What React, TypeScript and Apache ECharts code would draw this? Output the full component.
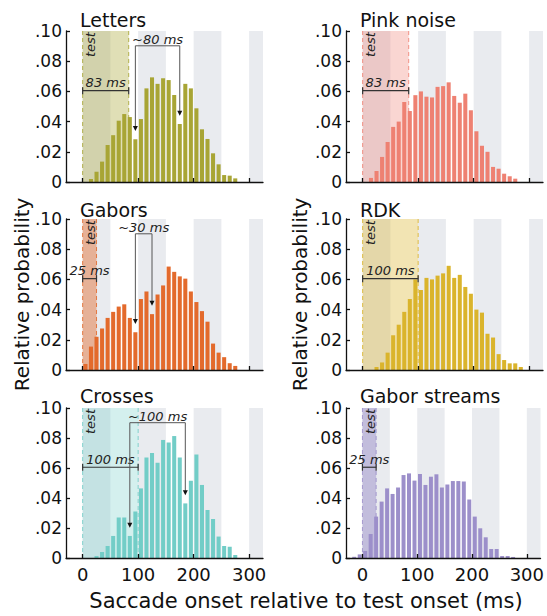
import React, { useEffect, useRef } from "react";
import * as echarts from "echarts";

// ---------- data ----------
const BIN_CENTERS = [-15, -5, 5, 15, 25, 35, 45, 55, 65, 75, 85, 95, 105, 115, 125, 135, 145, 155, 165, 175, 185, 195, 205, 215, 225, 235, 245, 255, 265, 275, 285];
const BIN_WIDTH = 10;

const LETTERS = [0, 0, 0, 0.002, 0.0068, 0.0135, 0.0245, 0.031, 0.0406, 0.045, 0.043, 0.0283, 0.0417, 0.062, 0.0693, 0.065, 0.0687, 0.0675, 0.0576, 0.0384, 0.065, 0.062, 0.0488, 0.0349, 0.0285, 0.019, 0.0117, 0.0046, 0.0042, 0.0024, 0];
const PINK_NOISE = [0, 0, 0, 0.0027, 0.0073, 0.0166, 0.0265, 0.0365, 0.04, 0.053, 0.047, 0.0575, 0.06, 0.0565, 0.056, 0.063, 0.0635, 0.066, 0.057, 0.0525, 0.0585, 0.0475, 0.0336, 0.024, 0.02, 0.01, 0.0088, 0.0055, 0.0038, 0.0022, 0];
const GABORS = [0, 0, 0.004, 0.0155, 0.022, 0.0275, 0.0345, 0.0385, 0.042, 0.0435, 0.0345, 0.025, 0.047, 0.052, 0.037, 0.05, 0.056, 0.0685, 0.065, 0.062, 0.0605, 0.052, 0.045, 0.039, 0.032, 0.0175, 0.0115, 0.0085, 0.0045, 0.0027, 0];
const RDK = [0, 0, 0, 0, 0.002, 0.005, 0.0115, 0.023, 0.03, 0.0385, 0.047, 0.06, 0.053, 0.061, 0.06, 0.0625, 0.064, 0.069, 0.061, 0.063, 0.055, 0.0505, 0.04, 0.038, 0.024, 0.0215, 0.0105, 0.0066, 0.0044, 0.0044, 0.002];
const CROSSES = [0, 0, 0, 0, 0.0013, 0.004, 0.008, 0.0147, 0.027, 0.027, 0.0147, 0.031, 0.0464, 0.067, 0.07, 0.0635, 0.0787, 0.077, 0.0813, 0.067, 0.0364, 0.0515, 0.069, 0.0487, 0.032, 0.026, 0.0143, 0.008, 0.0075, 0.002, 0];
const GABOR_STREAMS = [0.0008, 0.0024, 0.0047, 0.016, 0.0276, 0.0376, 0.0464, 0.0427, 0.047, 0.0553, 0.0564, 0.0516, 0.056, 0.0487, 0.0542, 0.0558, 0.047, 0.049, 0.0513, 0.0513, 0.051, 0.039, 0.0276, 0.0198, 0.0138, 0.006, 0.006, 0.0013, 0.0013, 0.0007, 0];

const TITLES = ["Letters", "Pink noise", "Gabors", "RDK", "Crosses", "Gabor streams"];
const VALUES = [LETTERS, PINK_NOISE, GABORS, RDK, CROSSES, GABOR_STREAMS];
const TEST_DURATIONS = [83, 83, 25, 100, 100, 25];
const TEST_LABELS = ["83 ms", "83 ms", "25 ms", "100 ms", "100 ms", "25 ms"];
const GAP_FROM = [95, null, 95, null, 85, null];
const GAP_TO = [175, null, 125, null, 185, null];
const GAP_LABELS = ["~80 ms", null, "~30 ms", null, "~100 ms", null];

const X_TICKS = [0, 100, 200, 300];
const BANDS = [[0, 50], [100, 150], [200, 250], [300, 350]];
const Y_AXIS_TITLE = "Relative probability";
const X_AXIS_TITLE = "Saccade onset relative to test onset (ms)";

// ---------- style ----------
const COLORS = ["#a8a535", "#ee8172", "#e36a2c", "#dab42c", "#72cdc7", "#9c8fca"];
const TEST_ALPHA = [0.36, 0.32, 0.45, 0.36, 0.3, 0.5];
const BAND_COLOR = "#e9ebef";
const INK = "#222";
const FONT = "'DejaVu Sans', sans-serif";
const X_MIN = -30;
const X_MAX = 325;
const GRID_LEFT = [66, 346];
const GRID_W = 197;
const ROW_TOP = [31, 219, 408];
const ROW_H = [151, 151, 150];
const TITLE_X = [80, 360];
const TITLE_Y = [20, 209.5, 396];

function rgba(hex: string, a: number) {
  const n = parseInt(hex.slice(1), 16);
  return `rgba(${(n >> 16) & 255},${(n >> 8) & 255},${n & 255},${a})`;
}

function fmtY(v: number) {
  const n = Math.round(v * 100);
  return n === 0 ? "0" : "." + String(n).padStart(2, "0");
}

function buildOption() {
  const grid: any[] = [];
  const xAxis: any[] = [];
  const yAxis: any[] = [];
  const series: any[] = [];
  const graphic: any[] = [];

  for (let i = 0; i < 6; i++) {
    const col = i % 2;
    const row = Math.floor(i / 2);
    const color = COLORS[i];
    const vals = VALUES[i];
    const dur = TEST_DURATIONS[i];

    grid.push({ left: GRID_LEFT[col], top: ROW_TOP[row], width: GRID_W, height: ROW_H[row], containLabel: false });
    xAxis.push({
      gridIndex: i, type: "value", min: X_MIN, max: X_MAX, z: 10,
      axisLine: { show: true, onZero: false, lineStyle: { color: "#111", width: 1.3 } },
      axisTick: { show: true, inside: true, length: 4, customValues: X_TICKS, lineStyle: { color: "#111", width: 1.3 } },
      axisLabel: { show: row === 2, customValues: X_TICKS, fontSize: 18, fontFamily: FONT, color: "#111", margin: 7 },
      splitLine: { show: false },
    });
    yAxis.push({
      gridIndex: i, type: "value", min: 0, max: 0.1, interval: 0.02, z: 10,
      axisLine: { show: true, onZero: false, lineStyle: { color: "#111", width: 1.3 } },
      axisTick: { show: true, inside: true, length: 4, lineStyle: { color: "#111", width: 1.3 } },
      axisLabel: { fontSize: 17, fontFamily: FONT, color: "#111", margin: 4, formatter: fmtY },
      splitLine: { show: false },
    });

    // grey background bands
    series.push({
      type: "custom", xAxisIndex: i, yAxisIndex: i, z: 1, silent: true,
      data: BANDS,
      renderItem: (params: any, api: any) => {
        const a = api.coord([api.value(0), 0.1]);
        const b = api.coord([api.value(1), 0]);
        const shape = echarts.graphic.clipRectByRect(
          { x: a[0], y: a[1], width: b[0] - a[0], height: b[1] - a[1] },
          params.coordSys
        );
        if (!shape) return { type: "group", children: [] };
        return { type: "rect", shape, style: { fill: BAND_COLOR } };
      },
    });

    // test interval shading and dashed borders
    series.push({
      type: "custom", xAxisIndex: i, yAxisIndex: i, z: 2, silent: true,
      data: [[0, dur]],
      renderItem: (params: any, api: any) => {
        const a = api.coord([api.value(0), 0.1]);
        const b = api.coord([api.value(1), 0]);
        const dash = { stroke: rgba(color, 0.85), lineWidth: 1, lineDash: [4, 3] };
        return {
          type: "group",
          children: [
            { type: "rect", shape: { x: a[0], y: a[1], width: b[0] - a[0], height: b[1] - a[1] }, style: { fill: rgba(color, TEST_ALPHA[i]) } },
            { type: "line", shape: { x1: a[0], y1: a[1], x2: a[0], y2: b[1] }, style: dash },
            { type: "line", shape: { x1: b[0], y1: a[1], x2: b[0], y2: b[1] }, style: dash },
          ],
        };
      },
    });

    // histogram bars
    series.push({
      type: "custom", xAxisIndex: i, yAxisIndex: i, z: 3, silent: true,
      data: BIN_CENTERS.map((c, k) => [c, vals[k]]).filter((d) => d[1] > 0),
      renderItem: (params: any, api: any) => {
        const c = api.value(0);
        const v = api.value(1);
        const a = api.coord([c - BIN_WIDTH / 2, v]);
        const b = api.coord([c + BIN_WIDTH / 2, 0]);
        const gap = 1.5;
        return {
          type: "rect",
          shape: { x: a[0] + gap / 2, y: a[1], width: b[0] - a[0] - gap, height: b[1] - a[1] },
          style: { fill: color },
        };
      },
    });

    // annotations
    const gFrom = GAP_FROM[i];
    const gTo = GAP_TO[i];
    const gLabel = GAP_LABELS[i];
    series.push({
      type: "custom", xAxisIndex: i, yAxisIndex: i, z: 4, silent: true,
      data: [[0, 0]],
      renderItem: (params: any, api: any) => {
        const children: any[] = [];
        const yb = api.coord([0, 0.0605])[1];
        const x0 = api.coord([0, 0])[0];
        const x1 = api.coord([dur, 0])[0];
        const lw = { stroke: "#333", lineWidth: 1.2 };
        children.push({ type: "line", shape: { x1: x0, y1: yb, x2: x1, y2: yb }, style: lw });
        children.push({ type: "line", shape: { x1: x0, y1: yb - 3.5, x2: x0, y2: yb + 3.5 }, style: lw });
        children.push({ type: "line", shape: { x1: x1, y1: yb - 3.5, x2: x1, y2: yb + 3.5 }, style: lw });
        const lt = api.coord([dur / 2, 0.0657]);
        children.push({
          type: "text", x: lt[0], y: lt[1],
          style: { text: TEST_LABELS[i], fill: INK, fontSize: 13, fontFamily: FONT, fontStyle: "italic", align: "center", verticalAlign: "middle" },
        });
        const tp = api.coord([15, 0.091]);
        children.push({
          type: "text", x: tp[0], y: tp[1], rotation: Math.PI / 2,
          style: { text: "test", fill: INK, fontSize: 13, fontFamily: FONT, fontStyle: "italic", align: "center", verticalAlign: "middle" },
        });
        if (gFrom !== null && gTo !== null) {
          const vA = vals[BIN_CENTERS.indexOf(gFrom)] + 0.0055;
          const vB = vals[BIN_CENTERS.indexOf(gTo)] + 0.0055;
          const top = api.coord([gFrom, 0.0902]);
          const tipA = api.coord([gFrom, vA]);
          const tipB = api.coord([gTo, vB]);
          const gl = { stroke: "#555", lineWidth: 1 };
          children.push({ type: "polyline", shape: { points: [[tipA[0], tipA[1] - 4], [top[0], top[1]], [tipB[0], top[1]], [tipB[0], tipB[1] - 4]] }, style: { ...gl, fill: "none" } });
          for (const t of [tipA, tipB]) {
            children.push({ type: "polygon", shape: { points: [[t[0] - 2.5, t[1] - 5], [t[0] + 2.5, t[1] - 5], [t[0], t[1]]] }, style: { fill: "#111" } });
          }
          const tl = api.coord([(gFrom + gTo) / 2, 0.0942]);
          children.push({
            type: "text", x: tl[0], y: tl[1],
            style: { text: gLabel, fill: INK, fontSize: 13, fontFamily: FONT, fontStyle: "italic", align: "center", verticalAlign: "middle" },
          });
        }
        return { type: "group", children };
      },
    });

    graphic.push({
      type: "text", x: TITLE_X[col], y: TITLE_Y[row],
      style: { text: TITLES[i], fill: "#111", fontSize: 19, fontFamily: FONT, align: "left", verticalAlign: "middle", textAlign: "left", textVerticalAlign: "middle" },
    });
  }

  for (const gx of [22, 300]) {
    graphic.push({
      type: "text", x: gx, y: 294.5, rotation: Math.PI / 2,
      style: { text: Y_AXIS_TITLE, fill: "#111", fontSize: 20, fontFamily: FONT, align: "center", verticalAlign: "middle", textAlign: "center", textVerticalAlign: "middle" },
    });
  }
  graphic.push({
    type: "text", x: 306, y: 601,
    style: { text: X_AXIS_TITLE, fill: "#111", fontSize: 21, fontFamily: FONT, align: "center", verticalAlign: "middle", textAlign: "center", textVerticalAlign: "middle" },
  });

  return { animation: false, backgroundColor: "#fff", grid, xAxis, yAxis, series, graphic };
}

export default function App() {
  const ref = useRef<HTMLDivElement>(null);
  useEffect(() => {
    document.body.style.margin = "0";
    const chart = echarts.init(ref.current!, null, { renderer: "svg" });
    chart.setOption(buildOption() as any);
    return () => chart.dispose();
  }, []);
  return <div ref={ref} style={{ width: 547, height: 616 }} />;
}
